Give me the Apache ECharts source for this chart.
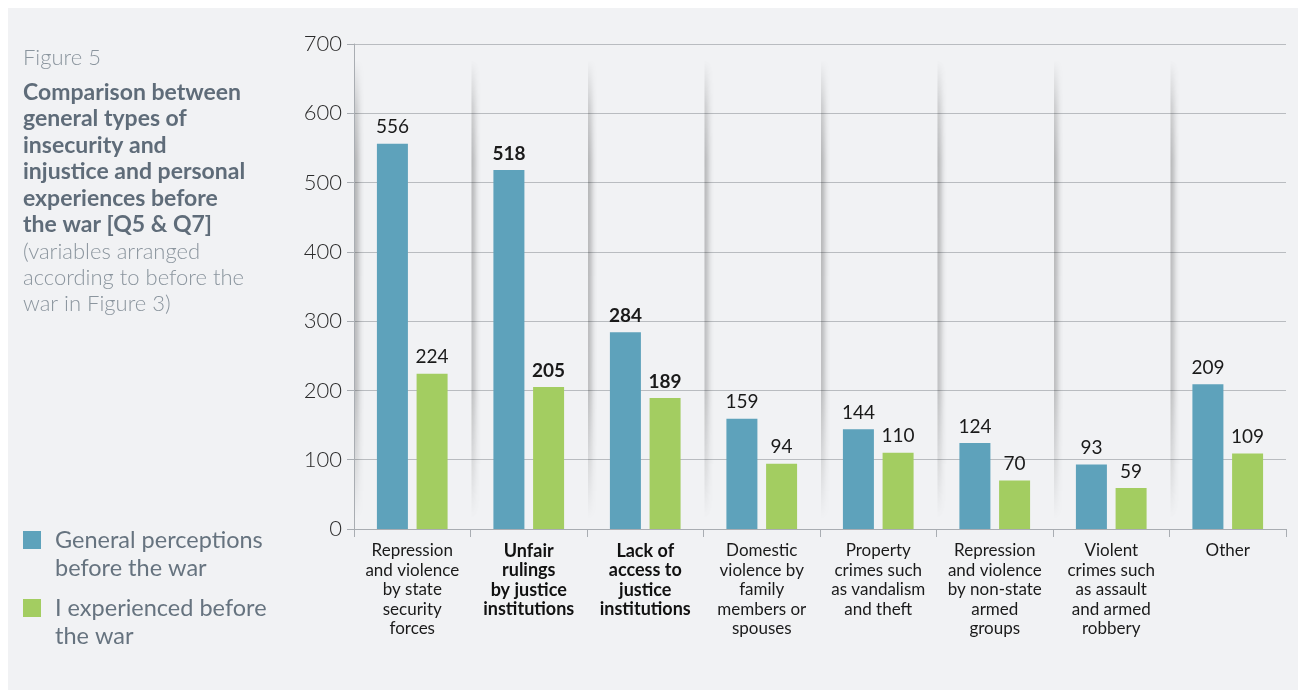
<!DOCTYPE html>
<html>
<head>
<meta charset="utf-8">
<script src="https://cdn.jsdelivr.net/npm/echarts@6/dist/echarts.min.js"></script>
<style>
  html, body { margin: 0; padding: 0; background: #ffffff; }
  #panel { position: absolute; left: 8px; top: 8px; width: 1290px; height: 682px; background: #f1f2f4; }
  #chart { position: absolute; left: 0; top: 0; width: 1306px; height: 690px; }
</style>
</head>
<body>
<div id="panel"></div>
<div id="chart"></div>
<script>
// ---- data ----
const categories = [
  'Repression\nand violence\nby state\nsecurity\nforces',
  'Unfair\nrulings\nby justice\ninstitutions',
  'Lack of\naccess to\njustice\ninstitutions',
  'Domestic\nviolence by\nfamily\nmembers or\nspouses',
  'Property\ncrimes such\nas vandalism\nand theft',
  'Repression\nand violence\nby non-state\narmed\ngroups',
  'Violent\ncrimes such\nas assault\nand armed\nrobbery',
  'Other'
];
const generalPerceptions = [556, 518, 284, 159, 144, 124, 93, 209];
const experienced = [224, 205, 189, 94, 110, 70, 59, 109];
const boldCategories = [1, 2];
const yTicks = [0, 100, 200, 300, 400, 500, 600, 700];
const seriesNames = ['General perceptions\nbefore the war', 'I experienced before\nthe war'];
const titleFigure = 'Figure 5';
const titleMain = 'Comparison between\ngeneral types of\ninsecurity and\ninjustice and personal\nexperiences before\nthe war [Q5 & Q7]';
const titleNote = '(variables arranged\naccording to before the\nwar in Figure 3)';

const FONT = 'Lato, "Open Sans", sans-serif';
const BLUE = '#5ea2bb';
const GREEN = '#a3cd61';

function toItems(values) {
  return values.map((v, i) => ({
    value: v,
    label: { fontWeight: boldCategories.includes(i) ? 'bold' : 'normal' }
  }));
}

// decorative separator shadows at each category's left edge
function renderShadow(params, api) {
  const cs = params.coordSys;
  const bandW = api.size([1, 0])[0];
  const x0 = api.coord([api.value(0), 0])[0] - bandW / 2;
  const top = cs.y + 16;
  const bottom = cs.y + cs.height - 10;
  const alphas = [0.24, 0.22, 0.19, 0.15, 0.11, 0.07, 0.045, 0.025, 0.012];
  const children = alphas.map((a, k) => ({
    type: 'rect',
    shape: { x: x0 + 1 + k, y: top, width: 1, height: bottom - top },
    style: {
      fill: new echarts.graphic.LinearGradient(0, 0, 0, 1, [
        { offset: 0, color: 'rgba(0,0,0,0)' },
        { offset: 0.1, color: 'rgba(0,0,0,' + (a * 0.6) + ')' },
        { offset: 0.22, color: 'rgba(0,0,0,' + a + ')' },
        { offset: 0.72, color: 'rgba(0,0,0,' + (a * 0.85) + ')' },
        { offset: 0.88, color: 'rgba(0,0,0,' + (a * 0.4) + ')' },
        { offset: 1, color: 'rgba(0,0,0,0)' }
      ])
    }
  }));
  return { type: 'group', children: children, silent: true };
}

const chart = echarts.init(document.getElementById('chart'), null, { renderer: 'canvas' });
const option = {
  backgroundColor: 'transparent',
  animation: false,
  textStyle: { fontFamily: FONT },
  title: [
    {
      text: titleFigure, left: 23, top: 45, padding: 0,
      textStyle: { fontFamily: FONT, fontSize: 22, fontWeight: 300, color: '#8b959e', lineHeight: 26 }
    },
    {
      text: titleMain, left: 23, top: 79, padding: 0,
      textStyle: { fontFamily: FONT, fontSize: 23, fontWeight: 'bold', color: '#5f6c79', lineHeight: 26.5 }
    },
    {
      text: titleNote, left: 23, top: 239, padding: 0,
      textStyle: { fontFamily: FONT, fontSize: 22, fontWeight: 300, color: '#8b959e', lineHeight: 26 }
    }
  ],
  legend: {
    orient: 'vertical',
    left: 23,
    top: 498,
    padding: 0,
    itemWidth: 18,
    itemHeight: 18,
    itemGap: -16,
    icon: 'rect',
    data: seriesNames,
    formatter: name => '\n' + name.split('\n').map(l => '{t|' + l + '}').join('\n'),
    textStyle: {
      fontFamily: FONT, fontSize: 23.5, color: '#66737f', lineHeight: 28,
      rich: {
        t: { fontFamily: FONT, fontSize: 23.5, color: '#66737f', lineHeight: 28, padding: [0, 0, 0, 9] }
      }
    }
  },
  grid: { left: 354, right: 20, top: 44, bottom: 161, containLabel: false },
  xAxis: {
    type: 'category',
    data: categories,
    axisLine: { show: true, lineStyle: { color: '#a9adb2', width: 1 } },
    axisTick: { show: true, length: 8, lineStyle: { color: '#a9adb2' } },
    axisLabel: {
      margin: 12,
      interval: 0,
      formatter: (value, idx) => boldCategories.includes(idx) ? '{b|' + value + '}' : '{n|' + value + '}',
      rich: {
        n: { fontFamily: FONT, fontSize: 17, lineHeight: 19.5, color: '#1a1a1a', align: 'center' },
        b: { fontFamily: FONT, fontSize: 18, lineHeight: 19.5, color: '#111', fontWeight: 'bold', align: 'center' }
      }
    },
    splitLine: { show: false }
  },
  yAxis: {
    type: 'value',
    min: yTicks[0],
    max: yTicks[yTicks.length - 1],
    interval: yTicks[1] - yTicks[0],
    axisLine: { show: true, lineStyle: { color: '#a9adb2' } },
    axisTick: { show: true, length: 7, lineStyle: { color: '#a9adb2' } },
    axisLabel: { margin: 12, fontFamily: FONT, fontSize: 22, fontWeight: 300, color: '#2b2b2b' },
    splitLine: { show: true, lineStyle: { color: '#b9bcc0', width: 1 } }
  },
  series: [
    {
      type: 'custom',
      renderItem: renderShadow,
      data: categories.map((c, i) => [i]),
      encode: { x: 0 },
      silent: true,
      z: 0,
      tooltip: { show: false }
    },
    {
      name: seriesNames[0],
      type: 'bar',
      data: toItems(generalPerceptions),
      barWidth: 31,
      barGap: '28%',
      itemStyle: { color: BLUE },
      z: 3,
      label: { show: true, position: 'top', distance: 7, fontFamily: FONT, fontSize: 19, color: '#1a1a1a' }
    },
    {
      name: seriesNames[1],
      type: 'bar',
      data: toItems(experienced),
      barWidth: 31,
      barGap: '28%',
      itemStyle: { color: GREEN },
      z: 3,
      label: { show: true, position: 'top', distance: 7, fontFamily: FONT, fontSize: 19, color: '#1a1a1a' }
    }
  ]
};
chart.setOption(option);
</script>
</body>
</html>
